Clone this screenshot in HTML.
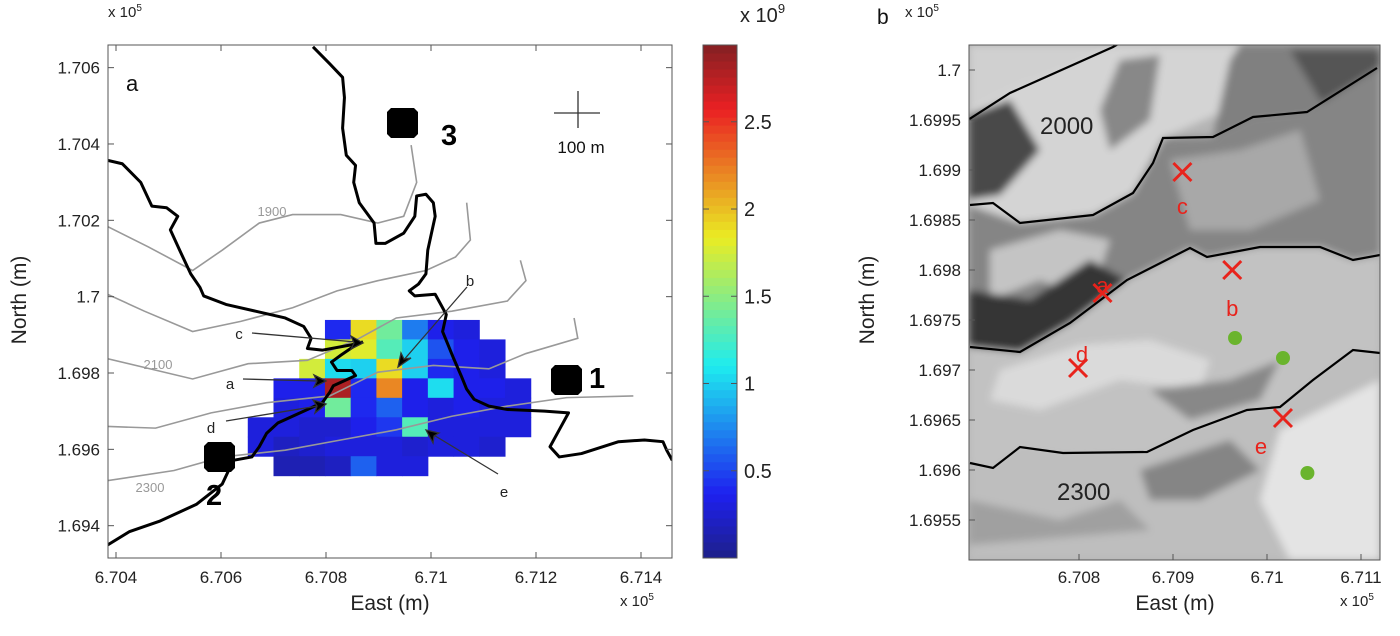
<!DOCTYPE html>
<html><head><meta charset="utf-8"><style>
html,body{margin:0;padding:0;background:#fff;}
svg{display:block;font-family:"Liberation Sans",sans-serif;}
</style></head><body>
<svg id="fig" width="1400" height="636" viewBox="0 0 1400 636" xmlns="http://www.w3.org/2000/svg">
<defs>
<filter id="blur" x="-5%" y="-5%" width="110%" height="110%"><feGaussianBlur stdDeviation="4"/></filter>
<clipPath id="clipB"><rect x="969" y="45" width="411" height="515"/></clipPath>
<clipPath id="clipA"><rect x="108" y="45" width="564" height="513"/></clipPath>
</defs>

<!-- PANEL A -->
<g id="panelA">
<rect x="108" y="45" width="564" height="513" fill="#fff"/>
<g id="heat"></g>
<g clip-path="url(#clipA)">
<g transform="translate(100,40) scale(0.37037,0.33898)" fill="none" stroke="#999" stroke-width="1.6">
<polyline vector-effect="non-scaling-stroke" points="20,550 130,610 250,680 330,620 430,540 520,515 650,515 750,540 820,520 855,420 840,310"/>
<polyline vector-effect="non-scaling-stroke" points="20,750 120,800 250,860 380,830 520,790 640,740 750,710 880,680 960,640 1000,590 990,480"/>
<polyline vector-effect="non-scaling-stroke" points="20,940 250,1000 400,955 560,945 700,880 800,820 950,800 1100,770 1150,710 1135,650"/>
<polyline vector-effect="non-scaling-stroke" points="20,1140 150,1145 300,1100 450,1070 620,1050 750,980 900,960 1050,970 1150,925 1290,880 1280,820"/>
<polyline vector-effect="non-scaling-stroke" points="20,1300 200,1270 330,1230 500,1210 650,1180 800,1150 950,1110 1100,1080 1260,1055 1440,1050"/>
</g>
<g transform="translate(100,40) scale(0.37037,0.33898)" fill="none" stroke="#000" stroke-width="3" stroke-linejoin="round">
<polyline vector-effect="non-scaling-stroke" points="20,355 60,365 110,420 140,490 180,495 210,520 190,560 215,620 245,690 270,730 280,755 340,780 420,800 500,820 550,845 570,880 560,910 600,915 700,895"/>
<polyline vector-effect="non-scaling-stroke" points="575,20 620,70 655,110 660,170 655,260 665,340 690,370 685,420 700,480 740,540 745,600 770,600 820,570 850,520 855,460 880,455 900,480 905,520 895,570 885,620 880,690 860,720 835,740 850,755 905,750 920,780 935,810 925,860 940,900 955,940 975,990 990,1030 1010,1060 1050,1080 1100,1090 1200,1095 1265,1100 1240,1150 1215,1200 1240,1230 1300,1220 1400,1185 1470,1180 1520,1185 1530,1210 1545,1240"/>
<polyline vector-effect="non-scaling-stroke" points="20,1490 80,1450 160,1420 260,1370 330,1310 360,1240 410,1230 430,1200 450,1160 480,1130 540,1100 600,1070 620,1040 630,1020 690,990 680,975 640,975 625,950 650,930 690,900 710,890"/>
</g>
</g>
<g font-size="13" fill="#999">
<text x="272" y="216" text-anchor="middle">1900</text>
<text x="158" y="369" text-anchor="middle">2100</text>
<text x="150" y="492" text-anchor="middle">2300</text>
</g>
<g stroke="#333" stroke-width="1.3" fill="#000" font-size="15">
<line x1="252" y1="333" x2="356" y2="342"/><path d="M363,343 l-12,-7 l3,7 l-3,6z"/>
<line x1="467" y1="287" x2="402" y2="362"/><path d="M398,367 l3,-14 l3,6 l7,-1z"/>
<line x1="243" y1="379" x2="318" y2="381"/><path d="M326,381 l-12,-6 l3,6 l-3,6z"/>
<line x1="226" y1="421" x2="318" y2="406"/><path d="M326,404 l-13,-4 l4,6 l-2,7z"/>
<line x1="498" y1="474" x2="432" y2="434"/><path d="M426,430 l13,3 l-5,3 l-1,7z"/>
</g>
<g font-size="15" fill="#222">
<text x="239" y="339" text-anchor="middle">c</text>
<text x="470" y="286" text-anchor="middle">b</text>
<text x="230" y="389" text-anchor="middle">a</text>
<text x="211" y="433" text-anchor="middle">d</text>
<text x="504" y="497" text-anchor="middle">e</text>
</g>
<g fill="#000">
<path d="M391,108 h23 l4,4 v22 l-4,4 h-23 l-4,-4 v-22z"/>
<path d="M555,365 h23 l4,4 v22 l-4,4 h-23 l-4,-4 v-22z"/>
<path d="M208,442 h23 l4,4 v22 l-4,4 h-23 l-4,-4 v-22z"/>
<text x="441" y="145" font-size="29" font-weight="bold">3</text>
<text x="589" y="388" font-size="29" font-weight="bold">1</text>
<text x="206" y="505" font-size="29" font-weight="bold">2</text>
</g>
<g stroke="#333" stroke-width="1.3">
<line x1="554" y1="113" x2="600" y2="113"/><line x1="578" y1="91" x2="578" y2="128"/>
</g>
<text x="581" y="153" font-size="17" text-anchor="middle" fill="#111">100 m</text>
<text x="126" y="91" font-size="22" fill="#111">a</text>
<rect x="108" y="45" width="564" height="513" fill="none" stroke="#555" stroke-width="1"/>
<g id="axA"></g>
<text x="108" y="17" font-size="15" fill="#222">x 10<tspan font-size="10" dy="-6">5</tspan></text>
<text x="620" y="606" font-size="15" fill="#222">x 10<tspan font-size="10" dy="-6">5</tspan></text>
<text x="390" y="610" font-size="21" text-anchor="middle" fill="#222">East (m)</text>
<text transform="translate(26,300) rotate(-90)" font-size="21" text-anchor="middle" fill="#222">North (m)</text>
</g>

<!-- COLORBAR -->
<g id="cbar"></g>
<text x="740" y="22" font-size="20" fill="#222">x 10<tspan font-size="13" dy="-9">9</tspan></text>

<!-- PANEL B -->
<g id="panelB">
<g clip-path="url(#clipB)">
<rect x="969" y="45" width="411" height="515" fill="#b4b4b4"/>
<g filter="url(#blur)">
<polygon points="969,45 1117,45 1030,80 969,120" fill="#d0d0d0"/>
<polygon points="969,110 1030,80 1117,45 1240,45 1250,100 1163,138 1133,193 1093,215 1020,223 969,205" fill="#d4d4d4"/>
<polygon points="969,115 1010,100 1040,150 1000,195 969,200" fill="#4a4a4a"/>
<polygon points="1120,60 1160,55 1150,120 1110,150 1100,110" fill="#888"/>
<polygon points="1240,45 1380,45 1380,68 1307,112 1253,117 1213,137 1230,60" fill="#808080"/>
<polygon points="1290,50 1380,50 1380,140 1340,150 1320,100" fill="#555"/>
<polygon points="969,205 1020,223 1093,215 1133,193 1163,138 1213,137 1253,117 1307,112 1377,68 1380,68 1380,255 1353,260 1320,247 1260,247 1207,257 1190,248 1127,280 1070,323 1020,352 969,347" fill="#858585"/>
<polygon points="990,250 1060,230 1110,240 1090,300 1040,280 990,300" fill="#c4c4c4"/>
<polygon points="1170,160 1240,150 1300,130 1320,200 1250,230 1190,230" fill="#a8a8a8"/>
<polygon points="969,290 1030,300 1090,260 1127,280 1070,323 1020,352 969,380" fill="#363636"/>
<polygon points="969,347 1020,352 1070,323 1127,280 1190,248 1207,257 1260,247 1320,247 1353,260 1380,255 1380,353 1353,350 1313,380 1280,407 1247,410 1193,430 1147,452 1063,453 1020,447 993,468 969,463" fill="#c2c2c2"/>
<polygon points="1000,370 1080,345 1150,340 1210,360 1200,390 1120,380 1040,410 990,400" fill="#dadada"/>
<polygon points="1150,390 1230,380 1280,360 1260,400 1190,420" fill="#888"/>
<polygon points="969,463 993,468 1020,447 1063,453 1147,452 1193,430 1247,410 1280,407 1313,380 1353,350 1380,353 1380,560 969,560" fill="#bebebe"/>
<polygon points="1280,430 1380,380 1380,560 1290,560 1260,500" fill="#e4e4e4"/>
<polygon points="1140,470 1230,440 1260,470 1200,500 1150,500" fill="#858585"/>
<polygon points="969,500 1060,520 1120,500 1150,530 969,545" fill="#a0a0a0"/>
</g>
<g fill="none" stroke="#000" stroke-width="2.2">
<polyline points="968,120 1010,93 1113,47 1125,40"/>
<polyline points="970,205 993,203 1020,223 1093,215 1133,193 1153,163 1163,138 1213,137 1253,117 1307,112 1377,68"/>
<polyline points="970,347 1020,352 1070,323 1127,280 1190,248 1207,257 1260,247 1320,247 1353,260 1380,255"/>
<polyline points="970,463 993,468 1020,447 1063,453 1147,452 1193,430 1247,410 1280,407 1313,380 1353,350 1380,353"/>
</g>
<text x="1040" y="134" font-size="24" fill="#222">2000</text>
<text x="1057" y="500" font-size="24" fill="#222">2300</text>
<g id="ptsB"></g>
</g>
<rect x="969" y="45" width="411" height="515" fill="none" stroke="#555" stroke-width="1"/>
<g id="axB"></g>
<text x="877" y="24" font-size="21" fill="#111">b</text>
<text x="905" y="17" font-size="15" fill="#222">x 10<tspan font-size="10" dy="-6">5</tspan></text>
<text x="1340" y="606" font-size="15" fill="#222">x 10<tspan font-size="10" dy="-6">5</tspan></text>
<text x="1175" y="610" font-size="21" text-anchor="middle" fill="#222">East (m)</text>
<text transform="translate(874,300) rotate(-90)" font-size="21" text-anchor="middle" fill="#222">North (m)</text>
</g>
</svg>
<script>
// ---- data ----
const heatX0 = 6.70651, heatYTop = 1.69939, cellW = 0.00049, cellH = 0.00051;
const heatRows = [
 [null,null,null,0.4,1.9,1.4,0.7,0.35,0.3,null,null],
 [null,null,null,1.75,1.8,1.3,1.0,0.55,0.35,0.3,null],
 [null,null,1.75,1.05,1.0,1.9,1.0,0.4,0.35,0.3,null],
 [null,0.35,0.35,2.8,0.4,2.2,0.35,1.05,0.35,0.35,0.3],
 [null,0.3,0.35,1.4,0.4,0.6,0.35,0.3,0.35,0.3,0.3],
 [0.3,0.3,0.25,0.25,0.35,0.45,1.3,0.3,0.3,0.3,0.3],
 [0.3,0.2,0.25,0.3,0.3,0.3,0.25,0.3,0.3,0.25,null],
 [null,0.15,0.15,0.2,0.6,0.3,0.3,null,null,null,null]
];
const xTicksA = [6.704,6.706,6.708,6.71,6.712,6.714];
const yTicksA = [1.694,1.696,1.698,1.7,1.702,1.704,1.706];
const cbTicks = [0.5,1,1.5,2,2.5];
const cbMax = 2.94;
const xTicksB = [6.708,6.709,6.71,6.711];
const yTicksB = [1.6955,1.696,1.6965,1.697,1.6975,1.698,1.6985,1.699,1.6995,1.7];
const crossX = [6.70910,6.70963,6.70825,6.70799,6.71017];
const crossY = [1.69898,1.69800,1.69777,1.69702,1.69652];
const greenX = [6.70966,6.71017,6.71043];
const greenY = [1.69732,1.69712,1.69597];

const NS='http://www.w3.org/2000/svg';
function mk(tag,attrs,parent){const e=document.createElementNS(NS,tag);for(const k in attrs)e.setAttribute(k,attrs[k]);parent.appendChild(e);return e;}
const xA=v=>116+(v-6.704)*52500, yA=v=>373-(v-1.698)*38170;
const xB=v=>1079+(v-6.708)*94000, yB=v=>70+(1.7-v)*100000;
const cbY=v=>558-(v/cbMax)*513;
function jet(t){t=Math.max(0,Math.min(1,t));
 const r=Math.max(0,Math.min(1,1.5-Math.abs(4*t-3))),g=Math.max(0,Math.min(1,1.5-Math.abs(4*t-2))),b=Math.max(0,Math.min(1,1.5-Math.abs(4*t-1)));
 const m=0.8, gr=[150,160,175];
 return `rgb(${Math.round(r*255*m+gr[0]*(1-m))},${Math.round(g*255*m+gr[1]*(1-m))},${Math.round(b*255*m+gr[2]*(1-m))})`;}

// heatmap
const heat=document.getElementById('heat');
heatRows.forEach((row,ri)=>row.forEach((v,ci)=>{ if(v===null)return;
 const x0=xA(heatX0+ci*cellW),x1=xA(heatX0+(ci+1)*cellW),y0=yA(heatYTop-ri*cellH),y1=yA(heatYTop-(ri+1)*cellH);
 const r=mk('rect',{x:x0,y:y0,width:x1-x0+0.5,height:y1-y0+0.5,fill:jet(v/cbMax)},heat);
 
 
}));

// axes A
const axA=document.getElementById('axA');
xTicksA.forEach(v=>{const x=xA(v);
 mk('line',{x1:x,y1:558,x2:x,y2:552,stroke:'#555'},axA);mk('line',{x1:x,y1:45,x2:x,y2:51,stroke:'#555'},axA);
 const t=mk('text',{x:x,y:583,'font-size':17,'text-anchor':'middle',fill:'#222'},axA);t.textContent=String(v);
 
 });
yTicksA.forEach(v=>{const y=yA(v);
 mk('line',{x1:108,y1:y,x2:114,y2:y,stroke:'#555'},axA);mk('line',{x1:672,y1:y,x2:666,y2:y,stroke:'#555'},axA);
 const t=mk('text',{x:100,y:y+6,'font-size':17,'text-anchor':'end',fill:'#222'},axA);t.textContent=String(v);
 
 });

// colorbar
const cb=document.getElementById('cbar');
for(let i=0;i<64;i++){const v0=i/64*cbMax,v1=(i+1)/64*cbMax;
 const r=mk('rect',{x:703,y:cbY(v1),width:34,height:cbY(v0)-cbY(v1)+0.5,fill:jet((i+0.5)/64)},cb);
 
 }
mk('rect',{x:703,y:45,width:34,height:513,fill:'none',stroke:'#555'},cb);
cbTicks.forEach(v=>{const y=cbY(v);
 mk('line',{x1:731,y1:y,x2:737,y2:y,stroke:'#555'},cb);mk('line',{x1:703,y1:y,x2:709,y2:y,stroke:'#555'},cb);
 const t=mk('text',{x:744,y:y+7,'font-size':20,fill:'#222'},cb);t.textContent=String(v);
 
 });

// axes B
const axB=document.getElementById('axB');
xTicksB.forEach(v=>{const x=xB(v);
 mk('line',{x1:x,y1:560,x2:x,y2:554,stroke:'#555'},axB);
 const t=mk('text',{x:x,y:583,'font-size':17,'text-anchor':'middle',fill:'#222'},axB);t.textContent=String(v);
 
 });
yTicksB.forEach(v=>{const y=yB(v);
 mk('line',{x1:969,y1:y,x2:975,y2:y,stroke:'#555'},axB);
 const t=mk('text',{x:961,y:y+6,'font-size':17,'text-anchor':'end',fill:'#222'},axB);t.textContent=String(v);
 
 });

// points B
const pts=document.getElementById('ptsB');
const letters=['c','b','a','d','e'];
const lOff=[[0,34],[0,38],[0,-8],[4,-14],[-22,28]];
crossX.forEach((v,i)=>{const x=xB(v),y=yB(crossY[i]);
 const g=mk('g',{stroke:'#e8231c','stroke-width':3},pts);
 
 
 mk('line',{x1:x-9,y1:y-9,x2:x+9,y2:y+9},g);mk('line',{x1:x-9,y1:y+9,x2:x+9,y2:y-9},g);
 const t=mk('text',{x:x+lOff[i][0],y:y+lOff[i][1]+8,'font-size':22,'text-anchor':'middle',fill:'#e8231c'},pts);t.textContent=letters[i];
 
 });
greenX.forEach((v,i)=>{const c=mk('circle',{cx:xB(v),cy:yB(greenY[i]),r:7,fill:'#6ab42d'},pts);
 
 });
</script>
</body></html>
